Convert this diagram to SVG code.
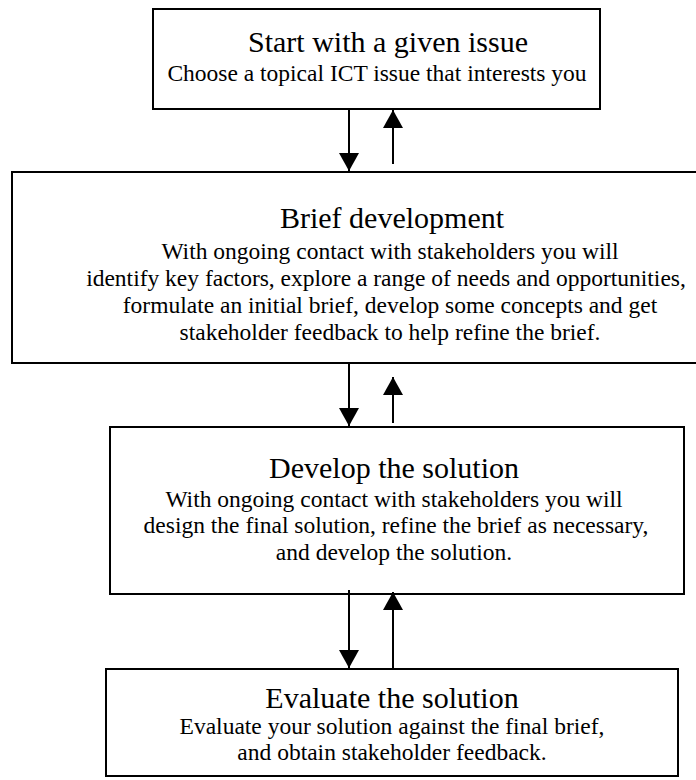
<svg xmlns="http://www.w3.org/2000/svg" width="696" height="780" viewBox="0 0 696 780">
<style>
.box{fill:#fff;stroke:#000;stroke-width:2}
.t{font-family:"Liberation Serif","Times New Roman",serif;fill:#000;text-anchor:middle}
.h{font-size:30px}
.b{font-size:23.5px}
.c{stroke:#000;stroke-width:2;fill:none}
</style>
<defs>
<marker id="ah" markerWidth="18" markerHeight="20" refX="18" refY="10" orient="auto" markerUnits="userSpaceOnUse" viewBox="0 0 18 20">
<path d="M0,0 L18,10 L0,20 Z" fill="#000"/>
</marker>
</defs>
<rect width="696" height="780" fill="#fff"/>
<g id="start">
<rect class="box" x="153" y="9" width="447" height="100"/>
<text class="t h" x="388" y="52">Start with a given issue</text>
<text class="t b" x="377" y="81">Choose a topical ICT issue that interests you</text>
</g>
<g id="brief">
<rect class="box" x="12" y="172" width="760" height="191"/>
<text class="t h" x="392" y="228">Brief development</text>
<text class="t b" x="390" y="259">With ongoing contact with stakeholders you will</text>
<text class="t b" x="386" y="286">identify key factors, explore a range of needs and opportunities,</text>
<text class="t b" x="390" y="313">formulate an initial brief, develop some concepts and get</text>
<text class="t b" x="390" y="340">stakeholder feedback to help refine the brief.</text>
</g>
<g id="develop">
<rect class="box" x="110" y="427" width="574" height="167"/>
<text class="t h" x="394" y="478">Develop the solution</text>
<text class="t b" x="394" y="507">With ongoing contact with stakeholders you will</text>
<text class="t b" x="396" y="533">design the final solution, refine the brief as necessary,</text>
<text class="t b" x="394" y="560">and develop the solution.</text>
</g>
<g id="evaluate">
<rect class="box" x="106" y="669" width="572" height="107"/>
<text class="t h" x="392" y="708">Evaluate the solution</text>
<text class="t b" x="392" y="734">Evaluate your solution against the final brief,</text>
<text class="t b" x="392" y="760">and obtain stakeholder feedback.</text>
</g>
<g id="connectors">
<line class="c" x1="349" y1="110" x2="349" y2="171" marker-end="url(#ah)"/>
<line class="c" x1="393" y1="164" x2="393" y2="110" marker-end="url(#ah)"/>
<line class="c" x1="349" y1="364" x2="349" y2="426" marker-end="url(#ah)"/>
<line class="c" x1="393" y1="423" x2="393" y2="377" marker-end="url(#ah)"/>
<line class="c" x1="349" y1="590" x2="349" y2="668" marker-end="url(#ah)"/>
<line class="c" x1="393" y1="668" x2="393" y2="592" marker-end="url(#ah)"/>
</g>
</svg>
